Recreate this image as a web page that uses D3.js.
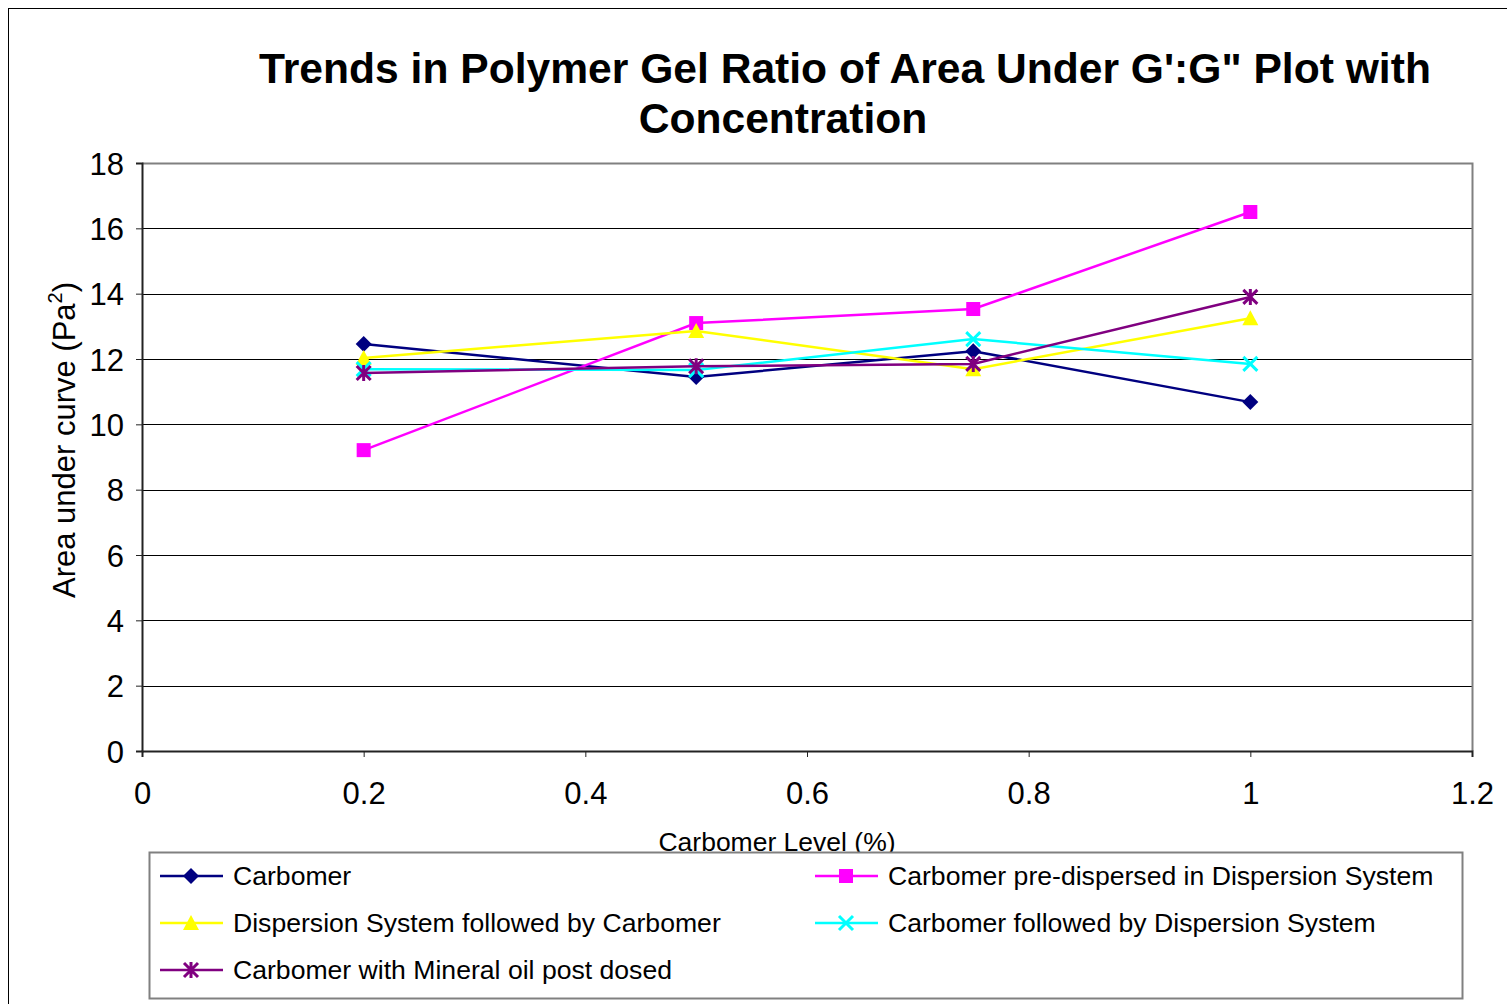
<!DOCTYPE html>
<head>
  <meta charset="utf-8">
  <style>
    body { margin: 0; background: #fff; font-family: "Liberation Sans", Arial, sans-serif; }
    svg { display: block; }
  </style>
</head>
<svg width="1507" height="1004"></svg>
<script src="https://d3js.org/d3.v7.min.js"></script>
<script>
  // data
  const levels = [0.2, 0.5, 0.75, 1];
  const seriesNames = [
    "Carbomer",
    "Carbomer pre-dispersed in Dispersion System",
    "Dispersion System followed by Carbomer",
    "Carbomer followed by Dispersion System",
    "Carbomer with Mineral oil post dosed"
  ];
  const carbomer = [12.46, 11.45, 12.24, 10.68];
  const preDispersed = [9.21, 13.1, 13.53, 16.5];
  const dispThenCarb = [12.03, 12.86, 11.69, 13.25];
  const carbThenDisp = [11.69, 11.66, 12.61, 11.85];
  const mineralOil = [11.57, 11.78, 11.85, 13.9];
  const colors = ["#000080", "#ff00ff", "#ffff00", "#00ffff", "#800080"];
  const markers = ["diamond", "square", "triangle", "cross", "star"];
  const xTicks = [0, 0.2, 0.4, 0.6, 0.8, 1, 1.2];
  const yTicks = [0, 2, 4, 6, 8, 10, 12, 14, 16, 18];

  const allValues = [carbomer, preDispersed, dispThenCarb, carbThenDisp, mineralOil];

  const margin = { left: 142, right: 1472, top: 163, bottom: 751 };
  const svg = d3.select("svg");

  // outer chart border
  svg.append("rect")
    .attr("x", 8.5).attr("y", 8.5)
    .attr("width", 1510).attr("height", 1010)
    .attr("fill", "none").attr("stroke", "#000").attr("stroke-width", 1);

  const x = d3.scaleLinear().domain([0, 1.2]).range([margin.left, margin.right]);
  const y = d3.scaleLinear().domain([0, 18]).range([margin.bottom, margin.top]);

  // gridlines
  svg.append("g")
    .selectAll("line")
    .data(yTicks.filter(d => d > 0 && d < 18))
    .enter().append("line")
    .attr("x1", margin.left).attr("x2", margin.right)
    .attr("y1", d => Math.round(y(d)) + 0.5).attr("y2", d => Math.round(y(d)) + 0.5)
    .attr("stroke", "#000").attr("stroke-width", 1);

  // plot frame (top + right gray)
  svg.append("path")
    .attr("d", `M${margin.left},${margin.top + 0.5}H${margin.right + 0.5}V${margin.bottom}`)
    .attr("fill", "none").attr("stroke", "#808080").attr("stroke-width", 2);

  // axes
  const xAxis = svg.append("g")
    .attr("transform", `translate(0,${margin.bottom})`)
    .call(d3.axisBottom(x).tickValues(xTicks).tickSize(6).tickPadding(25)
      .tickFormat(d => d3.format("~g")(d)));
  const yAxis = svg.append("g")
    .attr("transform", `translate(${margin.left},0)`)
    .call(d3.axisLeft(y).tickValues(yTicks).tickSize(6).tickPadding(12));

  [xAxis, yAxis].forEach(a => {
    a.select(".domain").attr("stroke", "#222").attr("stroke-width", 2);
    a.selectAll(".tick line").attr("stroke", "#222").attr("stroke-width", 1);
    a.selectAll("text").attr("font-family", "Liberation Sans, Arial, sans-serif")
      .attr("font-size", 31).attr("fill", "#000");
  });
  xAxis.selectAll("text").attr("dy", "0.71em");
  yAxis.selectAll("text").attr("dy", "0.36em");

  // titles
  const title = svg.append("g")
    .attr("font-family", "Liberation Sans, Arial, sans-serif")
    .attr("font-weight", "bold").attr("font-size", 42.6)
    .attr("text-anchor", "middle");
  title.append("text").attr("x", 845).attr("y", 83)
    .text("Trends in Polymer Gel Ratio of Area Under G':G\" Plot with");
  title.append("text").attr("x", 783).attr("y", 133).text("Concentration");

  const yLabel = svg.append("text")
    .attr("transform", "translate(75,440) rotate(-90)")
    .attr("text-anchor", "middle")
    .attr("font-size", 31);
  yLabel.append("tspan").text("Area under curve (Pa");
  yLabel.append("tspan").attr("font-size", 20).attr("dy", -13).text("2");
  yLabel.append("tspan").attr("dy", 13).text(")");

  svg.append("text")
    .attr("x", 777).attr("y", 851)
    .attr("text-anchor", "middle")
    .attr("font-size", 26.5)
    .text("Carbomer Level (%)");

  // marker drawing helper
  function drawMarker(g, type, color) {
    const s = 7;
    if (type === "diamond") {
      g.append("path").attr("d", `M0,-8L8,0L0,8L-8,0Z`).attr("fill", color);
    } else if (type === "square") {
      g.append("rect").attr("x", -s).attr("y", -s).attr("width", 2 * s).attr("height", 2 * s)
        .attr("fill", color);
    } else if (type === "triangle") {
      g.append("path").attr("d", `M0,${-s - 1}L${s + 1},${s}L${-s - 1},${s}Z`).attr("fill", color);
    } else if (type === "cross") {
      g.append("path").attr("d", `M${-s},${-s}L${s},${s}M${-s},${s}L${s},${-s}`)
        .attr("stroke", color).attr("stroke-width", 3);
    } else if (type === "star") {
      g.append("path").attr("d", `M${-s},${-s}L${s},${s}M${-s},${s}L${s},${-s}M0,${-s - 1}V${s + 1}`)
        .attr("stroke", color).attr("stroke-width", 3);
    }
  }

  const line = d3.line().x(d => x(d[0])).y(d => y(d[1]));

  allValues.forEach((vals, i) => {
    const pts = levels.map((l, j) => [l, vals[j]]);
    const g = svg.append("g");
    g.append("path").attr("d", line(pts))
      .attr("fill", "none").attr("stroke", colors[i]).attr("stroke-width", 2.5);
    pts.forEach(p => {
      const m = g.append("g").attr("transform", `translate(${x(p[0])},${y(p[1])})`);
      drawMarker(m, markers[i], colors[i]);
    });
  });

  // legend
  const legend = svg.append("g");
  legend.append("rect")
    .attr("x", 149.5).attr("y", 852.5).attr("width", 1313).attr("height", 146)
    .attr("fill", "#fff").attr("stroke", "#808080").attr("stroke-width", 2);
  const legendPos = [
    [160, 876], [815, 876], [160, 923], [815, 923], [160, 970]
  ];
  seriesNames.forEach((name, i) => {
    const [lx, ly] = legendPos[i];
    const item = legend.append("g").attr("transform", `translate(${lx},${ly})`);
    item.append("line").attr("x1", 0).attr("x2", 63).attr("y1", 0).attr("y2", 0)
      .attr("stroke", colors[i]).attr("stroke-width", 2.5);
    const m = item.append("g").attr("transform", "translate(31,0)");
    drawMarker(m, markers[i], colors[i]);
    item.append("text").attr("x", 73).attr("y", 0).attr("dy", "0.35em")
      .attr("font-size", 26.6).text(name);
  });
</script>
